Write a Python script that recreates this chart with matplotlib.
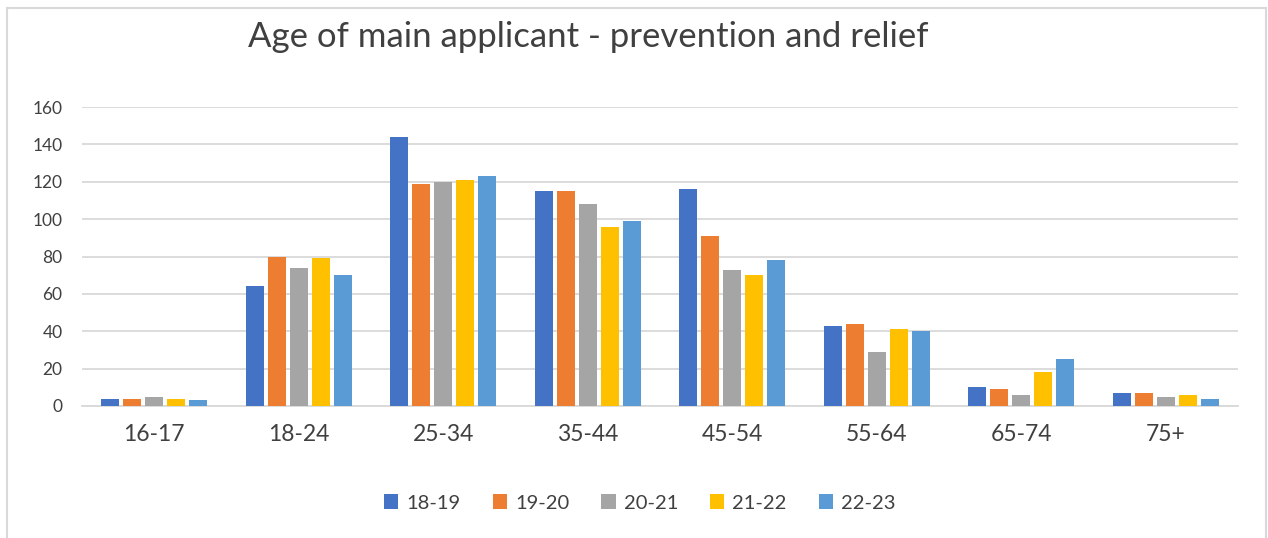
import numpy as np
import matplotlib.pyplot as plt
from matplotlib.patches import Rectangle

plt.rcParams['font.family'] = ['Lato', 'DejaVu Sans']

ages = ['16-17', '18-24', '25-34', '35-44', '45-54', '55-64', '65-74', '75+']
years = ['18-19', '19-20', '20-21', '21-22', '22-23']
colors = ['#4472C4', '#ED7D31', '#A5A5A5', '#FFC000', '#5B9BD5']

y1819 = [4, 64, 144, 115, 116, 43, 10, 7]
y1920 = [4, 80, 119, 115, 91, 44, 9, 7]
y2021 = [5, 74, 120, 108, 73, 29, 6, 5]
y2122 = [4, 79, 121, 96, 70, 41, 18, 6]
y2223 = [3, 70, 123, 99, 78, 40, 25, 4]
series = [y1819, y1920, y2021, y2122, y2223]

fig = plt.figure(figsize=(12.68, 5.38), dpi=100)
ax = fig.add_axes([82/1268, 1 - 406/538, (1238-82)/1268, 299/538])

x = np.arange(len(ages))
w = 0.152
for i, (vals, c, lab) in enumerate(zip(series, colors, years)):
    ax.bar(x + (i - 2) * w, vals, width=0.125, color=c, label=lab, zorder=3)

ax.set_xlim(-0.5, len(ages) - 0.5)
ax.set_ylim(0, 160)
ax.set_yticks(range(0, 161, 20))
ax.yaxis.grid(True, color='#D9D9D9', linewidth=1.3, zorder=0)
ax.set_xticks(x)
ax.set_xticklabels(ages, fontsize=16.5, color='#404040')
ax.tick_params(axis='y', labelsize=12.5, labelcolor='#404040', length=0, pad=14)
ax.tick_params(axis='x', length=0, pad=13)
for s in ['top', 'right', 'left']:
    ax.spines[s].set_visible(False)
ax.spines['bottom'].set_color('#D9D9D9')
ax.spines['bottom'].set_linewidth(1.3)

fig.text(588/1268, 1 - 37/538, 'Age of main applicant - prevention and relief',
         ha='center', va='center', fontsize=25, color='#404040')

fig.legend(loc='center', bbox_to_anchor=(640/1268, 1 - 503/538), ncol=5,
           frameon=False, fontsize=14.5, handlelength=0.7, handleheight=0.7,
           handletextpad=0.4, columnspacing=1.6, labelcolor='#404040')

fig.patches.append(Rectangle((7/1268, -0.05), (1266-7)/1268, 1.05 - 8/538,
                             transform=fig.transFigure, fill=False,
                             edgecolor='#D9D9D9', linewidth=1.5))

fig.savefig('out.png', dpi=100)
